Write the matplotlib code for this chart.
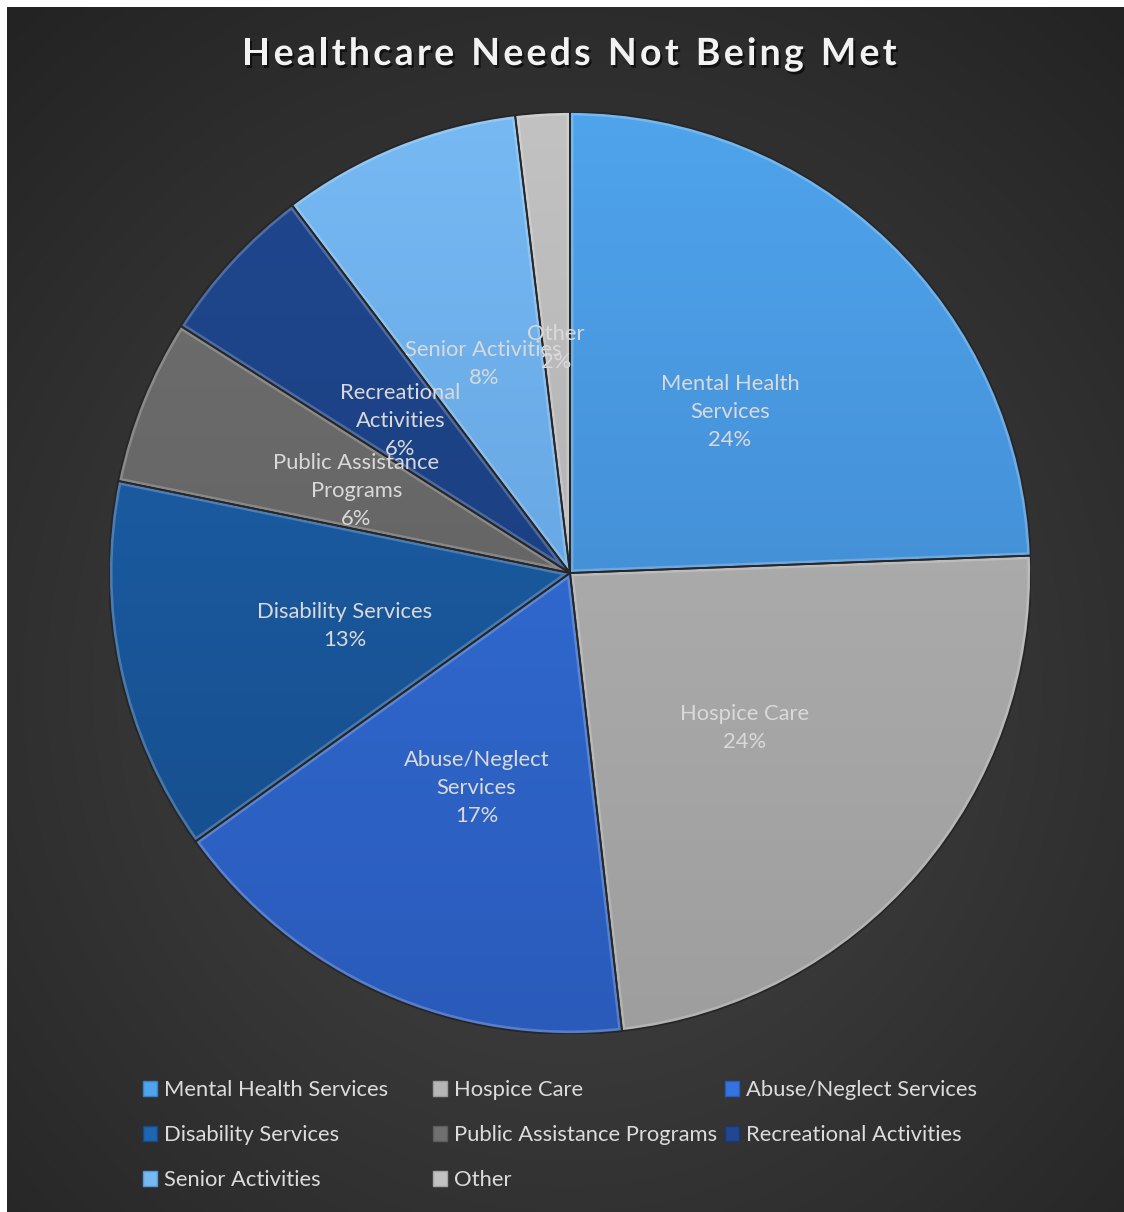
import matplotlib
matplotlib.use("Agg")
import matplotlib.pyplot as plt
import matplotlib.patheffects as pe
import numpy as np
from matplotlib.colors import LinearSegmentedColormap
from matplotlib.patches import Patch, Wedge

# share of responses per unmet need (percent)
categories = ["Mental Health Services", "Hospice Care", "Abuse/Neglect Services",
              "Disability Services", "Public Assistance Programs",
              "Recreational Activities", "Senior Activities", "Other"]
slice_labels = ["Mental Health\nServices", "Hospice Care", "Abuse/Neglect\nServices",
                "Disability Services", "Public Assistance\nPrograms",
                "Recreational\nActivities", "Senior Activities", "Other"]
shares = [24.4, 23.8, 16.9, 13.1, 5.8, 5.7, 8.4, 1.9]
title = "Healthcare Needs Not Being Met"

# top / bottom shade of each slice
top_colors = ["#4fa4ec", "#b6b6b6", "#3574de", "#1f65b0",
              "#707070", "#20478f", "#76b9f3", "#c2c2c2"]
bottom_colors = ["#3a7ec4", "#9e9e9e", "#2a5bbb", "#144a87",
                 "#5c5c5c", "#173a77", "#5a97d5", "#a6a6a6"]

W, H = 1124, 1212
FONT = ["Lato", "DejaVu Sans"]
TXT = "#d9d9d9"
FS = 15.8

fig = plt.figure(figsize=(W / 100, H / 100), dpi=100)
fig.patch.set_facecolor("white")

# dark radial backdrop
bg = fig.add_axes([7 / W, 0, (W - 7) / W, (H - 7) / H])
yy, xx = np.mgrid[0:H - 7, 0:W - 7]
d = np.clip(np.hypot(xx - 560, (yy - 680) * 0.95) / 860, 0, 1)
bg.imshow(d, cmap=LinearSegmentedColormap.from_list("bg", ["#474747", "#232323"]),
          aspect="auto", interpolation="bilinear")
bg.axis("off")

# pie
R, cx, cy = 461, 570, 573
ax = fig.add_axes([(cx - R) / W, (H - cy - R) / H, 2 * R / W, 2 * R / H])
wedges, _ = ax.pie(shares, startangle=90, counterclock=False, radius=1,
                   colors=top_colors, wedgeprops=dict(linewidth=0))
ax.set_xlim(-1, 1)
ax.set_ylim(-1, 1)
ax.axis("off")

grad = np.linspace(0, 1, 256).reshape(-1, 1)
total = sum(shares)
for w, c0, c1, lbl, v in zip(wedges, top_colors, bottom_colors, slice_labels, shares):
    cmap = LinearSegmentedColormap.from_list("s", [c0, c1])
    im = ax.imshow(grad, cmap=cmap, extent=(-1, 1, -1, 1), aspect="auto", zorder=1.1)
    im.set_clip_path(w)
    # bevel: soft inner highlight and a dark seam
    hl = Wedge((0, 0), 1, w.theta1, w.theta2, fc="none", ec="white",
               lw=5, alpha=0.22, zorder=1.2)
    ax.add_patch(hl)
    hl.set_clip_path(w)
    ax.add_patch(Wedge((0, 0), 1, w.theta1, w.theta2, fc="none",
                       ec="#262626", lw=1.3, zorder=1.3))
    ang = np.deg2rad((w.theta1 + w.theta2) / 2)
    ax.text(0.5 * np.cos(ang), 0.5 * np.sin(ang) - 0.01,
            f"{lbl}\n{round(v / total * 100)}%",
            ha="center", va="center", fontsize=FS, color=TXT, family=FONT,
            linespacing=1.5, zorder=3)

# title, drawn glyph by glyph to get the wide tracking
renderer = fig.canvas.get_renderer()
tkw = dict(fontsize=27, fontweight="bold", color="#f2f2f2", family=FONT, va="center",
           path_effects=[pe.withSimplePatchShadow(offset=(1.5, -2), shadow_rgbFace="black",
                                                  alpha=0.6)])
widths = []
for ch in title:
    t = fig.text(0, 0, ch if ch != " " else "n", **tkw)
    widths.append(t.get_window_extent(renderer).width * (0.5 if ch == " " else 1))
    t.remove()
target = 655
gap = (target - sum(widths)) / (len(title) - 1)
x = 569 - target / 2
for ch, wd in zip(title, widths):
    if ch != " ":
        fig.text(x / W, 1 - 54 / H, ch, ha="left", **tkw)
    x += wd + gap

# legend, three fixed-width columns filled row by row
col_x = [143, 433, 725]
for c, x in enumerate(col_x):
    idx = list(range(c, len(categories), 3))
    handles = [Patch(fc=top_colors[i], ec=bottom_colors[i], lw=1) for i in idx]
    fig.legend(handles, [categories[i] for i in idx], loc="upper left",
               bbox_to_anchor=(x / W, 1 - 1080 / H), frameon=False,
               prop=dict(family=FONT, size=FS), labelcolor="#dcdcdc",
               handlelength=0.65, handleheight=0.65, handletextpad=0.3,
               labelspacing=1.15, borderpad=0, borderaxespad=0)

fig.savefig("out.png", dpi=100, facecolor=fig.get_facecolor())
